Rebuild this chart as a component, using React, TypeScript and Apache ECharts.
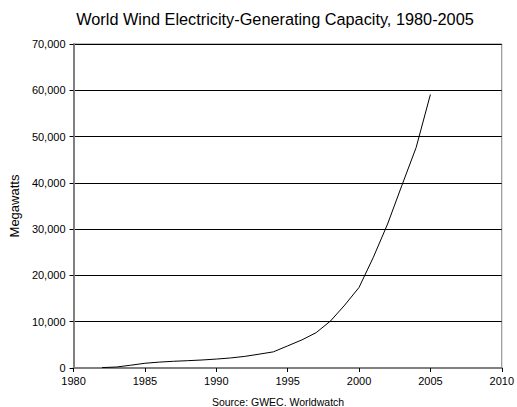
import React, { useEffect, useRef } from "react";
import * as echarts from "echarts";

const years = [1982, 1983, 1984, 1985, 1986, 1987, 1988, 1989, 1990, 1991, 1992, 1993, 1994, 1995, 1996, 1997, 1998, 1999, 2000, 2001, 2002, 2003, 2004, 2005];
const megawatts = [90, 210, 600, 1020, 1270, 1450, 1580, 1730, 1930, 2170, 2510, 2990, 3490, 4780, 6070, 7640, 10150, 13600, 17400, 23900, 31100, 39431, 47620, 59091];

const titleText = "World Wind Electricity-Generating Capacity, 1980-2005";
const sourceText = "Source: GWEC. Worldwatch";
const yAxisName = "Megawatts";

export default function App() {
  const ref = useRef<HTMLDivElement>(null);
  useEffect(() => {
    if (!ref.current) return;
    const chart = echarts.init(ref.current, null, { renderer: "svg" });
    const font = "Liberation Sans, Arial, sans-serif";
    chart.setOption({
      animation: false,
      backgroundColor: "#fff",
      textStyle: { fontFamily: font },
      title: [
        {
          text: titleText,
          left: 270,
          textAlign: "center",
          top: 6,
          textStyle: { fontSize: 16.3, fontWeight: "normal", color: "#000", fontFamily: font },
        },
        {
          text: sourceText,
          left: 273,
          textAlign: "center",
          top: 391,
          textStyle: { fontSize: 10.5, fontWeight: "normal", color: "#000", fontFamily: font },
        },
      ],
      grid: {
        left: 72,
        right: 11,
        top: 44,
        bottom: 39,
        show: true,
        borderColor: "#808080",
        borderWidth: 1,
      },
      xAxis: {
        type: "value",
        min: 1980,
        max: 2010,
        interval: 5,
        axisLine: { show: true, onZero: false, lineStyle: { color: "#808080", width: 2 } },
        axisTick: { show: true, length: 4, lineStyle: { color: "#000" } },
        axisLabel: { color: "#000", fontSize: 11, margin: 7, fontFamily: font, formatter: (v: number) => String(v) },
        splitLine: { show: false },
      },
      yAxis: {
        type: "value",
        min: 0,
        max: 70000,
        interval: 10000,
        name: yAxisName,
        nameLocation: "middle",
        nameGap: 44,
        nameTextStyle: { fontSize: 13, color: "#000", fontFamily: font },
        axisLine: { show: true, lineStyle: { color: "#808080", width: 2 } },
        axisTick: { show: true, length: 4, lineStyle: { color: "#000" } },
        axisLabel: {
          color: "#000",
          fontSize: 11,
          margin: 8,
          fontFamily: font,
          formatter: (v: number) => v.toLocaleString("en-US"),
        },
        splitLine: { show: true, lineStyle: { color: "#000", width: 1 } },
      },
      series: [
        {
          type: "line",
          data: years.map((y, i) => [y, megawatts[i]]),
          showSymbol: false,
          lineStyle: { color: "#000", width: 1 },
          z: 5,
        },
      ],
    });
    return () => chart.dispose();
  }, []);
  return <div ref={ref} style={{ width: 517, height: 407, position: "absolute", left: 0, top: 0 }} />;
}
